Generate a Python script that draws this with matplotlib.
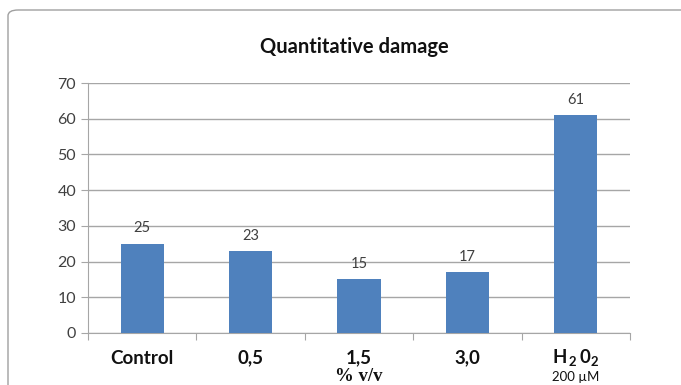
import numpy as np
import matplotlib.pyplot as plt
from matplotlib.patches import FancyBboxPatch

plt.rcParams['mathtext.fontset'] = 'custom'
plt.rcParams['mathtext.bf'] = 'Lato:bold'
plt.rcParams['mathtext.rm'] = 'Lato'

categories = ['Control', '0,5', '1,5', '3,0', r'$\mathbf{H_{\,2}\,0_{2}}$']
damage = [25, 23, 15, 17, 61]
sub_labels = {2: '% v/v', 4: '200 µM'}

bar_color = '#4F81BD'
grid_color = '#A6A6A6'
text_color = '#404040'

fig = plt.figure(figsize=(6.81, 3.85), dpi=100)

# rounded frame around the chart area, kept behind the axes
frame = FancyBboxPatch((8 / 681, -0.2), 1.2, 1.2 - 10 / 385,
                       boxstyle='round,pad=0,rounding_size=0.015',
                       transform=fig.transFigure, facecolor='white',
                       edgecolor='#A0A0A0', linewidth=1.0, zorder=-10)
fig.patches.append(frame)

ax = fig.add_axes([88 / 681, 52 / 385, 542 / 681, 250 / 385], zorder=5)
ax.patch.set_alpha(0)
x = np.arange(len(categories))
bars = ax.bar(x, damage, width=0.4, color=bar_color, zorder=3)

ax.set_xlim(-0.5, len(categories) - 0.5)
ax.set_ylim(0, 70)
ax.set_yticks(range(0, 71, 10))
ax.yaxis.grid(True, color=grid_color, linewidth=1.0, zorder=0)

for s in ['top', 'right']:
    ax.spines[s].set_visible(False)
for s in ['left', 'bottom']:
    ax.spines[s].set_color(grid_color)

ax.tick_params(axis='y', colors=grid_color, labelcolor=text_color,
               labelsize=11.5, length=5)
for lab in ax.get_yticklabels():
    lab.set_fontfamily(['Lato', 'DejaVu Sans'])

# category boundary ticks on the x axis
ax.set_xticks(np.arange(-0.5, len(categories), 1.0))
ax.set_xticklabels([])
ax.tick_params(axis='x', colors=grid_color, length=5)

for i, name in enumerate(categories):
    ax.text(i, -0.1, name, transform=ax.get_xaxis_transform(),
            ha='center', va='center', fontsize=13.5, fontweight='bold',
            family=['Lato', 'DejaVu Sans'], color='#111111')

ax.text(2, -0.174, sub_labels[2], transform=ax.get_xaxis_transform(),
        ha='center', va='center', fontsize=13.5, fontweight='bold',
        family=['Liberation Serif'], color='#111111')
ax.text(4, -0.175, sub_labels[4], transform=ax.get_xaxis_transform(),
        ha='center', va='center', fontsize=9.5,
        family=['Lato', 'DejaVu Sans'], color='#111111')

for b, v in zip(bars, damage):
    ax.annotate(str(v), (b.get_x() + b.get_width() / 2, v),
                xytext=(0, 11), textcoords='offset points',
                ha='center', va='center', fontsize=10.5,
                family=['Lato', 'DejaVu Sans'], color=text_color)

fig.text(354 / 681, 1 - 47 / 385, 'Quantitative damage', ha='center',
         va='center', fontsize=14.5, fontweight='bold',
         family=['Lato', 'DejaVu Sans'], color='#111111')

fig.savefig('out.png', dpi=100)
